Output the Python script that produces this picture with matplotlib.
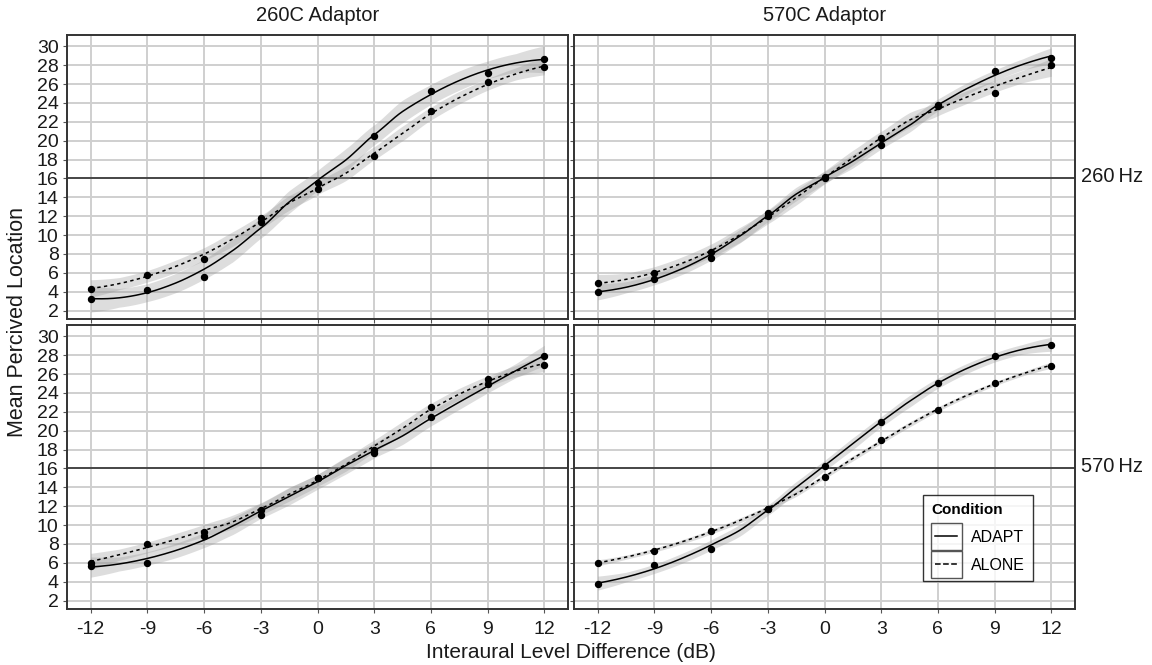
import numpy as np
import matplotlib
matplotlib.use("Agg")
import matplotlib.pyplot as plt
from matplotlib.lines import Line2D
from matplotlib.patches import Rectangle
from matplotlib.legend_handler import HandlerBase

plt.rcParams["font.family"] = ["Liberation Sans", "DejaVu Sans"]
plt.rcParams["axes.unicode_minus"] = False

ild = [-12, -9, -6, -3, 0, 3, 6, 9, 12]
y_ticks = list(range(2, 31, 2))
adaptors = ["260C Adaptor", "570C Adaptor"]
targets = ["260\u2009Hz", "570\u2009Hz"]

# mean perceived location, rows = target, columns = adaptor
adapt_260c_260 = [3.2, 4.2, 5.6, 11.4, 15.5, 20.5, 25.3, 27.2, 28.7]
alone_260c_260 = [4.3, 5.8, 7.5, 11.8, 14.9, 18.4, 23.1, 26.2, 27.8]
adapt_570c_260 = [4.0, 5.3, 7.6, 12.3, 16.2, 19.5, 23.8, 27.4, 28.8]
alone_570c_260 = [4.9, 6.0, 8.2, 12.0, 16.0, 20.3, 23.7, 25.1, 28.0]
adapt_260c_570 = [5.7, 6.0, 8.8, 11.1, 15.0, 17.6, 21.4, 24.9, 27.9]
alone_260c_570 = [6.0, 8.0, 9.3, 11.6, 15.0, 18.0, 22.5, 25.5, 27.0]
adapt_570c_570 = [3.7, 5.8, 7.5, 11.7, 16.3, 20.9, 25.1, 27.9, 29.1]
alone_570c_570 = [6.0, 7.3, 9.4, 11.7, 15.1, 19.0, 22.2, 25.1, 26.9]

panels = {
    (0, 0): (adapt_260c_260, alone_260c_260),
    (0, 1): (adapt_570c_260, alone_570c_260),
    (1, 0): (adapt_260c_570, alone_260c_570),
    (1, 1): (adapt_570c_570, alone_570c_570),
}


def local_rows(x, x0, q):
    # rows of the local quadratic smoother: value and slope at x0
    d = np.abs(x - x0)
    h = np.sort(d)[q - 1] * 1.0001
    w = np.clip(1 - (d / h) ** 3, 0, None) ** 3
    X = np.column_stack([np.ones_like(x), x - x0, (x - x0) ** 2])
    W = np.diag(w)
    A = np.linalg.pinv(X.T @ W @ X) @ X.T @ W
    return A[0], A[1]


def loess(x, y, grid, span=0.75):
    x = np.asarray(x, float)
    y = np.asarray(y, float)
    q = int(np.floor(len(x) * span))

    # residual scale from the hat matrix
    S = np.array([local_rows(x, v, q)[0] for v in x])
    R = np.eye(len(x)) - S
    sigma = np.sqrt(np.sum((R @ y) ** 2) / np.trace(R.T @ R))

    # exact fit at vertices, cubic Hermite in between
    verts = np.unique(np.concatenate([x, (x[:-1] + x[1:]) / 2]))
    vals, slopes, ses = [], [], []
    for v in verts:
        l0, l1 = local_rows(x, v, q)
        vals.append(l0 @ y)
        slopes.append(l1 @ y)
        ses.append(sigma * np.sqrt(np.sum(l0 ** 2)))
    vals, slopes, ses = map(np.array, (vals, slopes, ses))

    idx = np.clip(np.searchsorted(verts, grid) - 1, 0, len(verts) - 2)
    x0, x1 = verts[idx], verts[idx + 1]
    hh = x1 - x0
    t = (grid - x0) / hh
    h00 = 2 * t ** 3 - 3 * t ** 2 + 1
    h10 = t ** 3 - 2 * t ** 2 + t
    h01 = -2 * t ** 3 + 3 * t ** 2
    h11 = t ** 3 - t ** 2
    fit = (h00 * vals[idx] + h10 * hh * slopes[idx]
           + h01 * vals[idx + 1] + h11 * hh * slopes[idx + 1])
    se = np.interp(grid, verts, ses)
    return fit, se


class BoxedLine(HandlerBase):
    def create_artists(self, legend, orig_handle, xdescent, ydescent,
                       width, height, fontsize, trans):
        gap = legend.labelspacing * fontsize / 2
        box = Rectangle((-xdescent, -ydescent - gap), width, height + 2 * gap,
                        fill=False, edgecolor="#555555", linewidth=1.0,
                        transform=trans)
        yc = height / 2 - ydescent
        line = Line2D([-xdescent + 3, -xdescent + width - 3], [yc, yc],
                      color="black", linewidth=1.1,
                      linestyle=orig_handle.get_linestyle(), transform=trans)
        return [box, line]


fig = plt.figure(figsize=(11.52, 6.65), dpi=100)
lefts = [67 / 1152, 574 / 1152]
bottoms = [1 - 319 / 665, 1 - 609 / 665]
w = 501 / 1152
h = 284 / 665

grid_x = np.linspace(-12, 12, 241)
grey = "#cfcfcf"
dash = (0, (2.2, 2.2))

for (r, c), (adapt, alone) in panels.items():
    ax = fig.add_axes([lefts[c], bottoms[r], w, h])
    ax.set_xlim(-13.25, 13.25)
    ax.set_ylim(1.1, 31.2)
    ax.set_xticks(ild)
    ax.set_yticks(y_ticks)
    ax.grid(True, color=grey, linewidth=1.4)
    ax.set_axisbelow(True)
    for s in ax.spines.values():
        s.set_color("#333333")
        s.set_linewidth(1.4)
    ax.axhline(16, color="#222222", linewidth=1.1, zorder=2)

    for vals, ls in ((adapt, "-"), (alone, dash)):
        fit, se = loess(ild, vals, grid_x)
        ax.fill_between(grid_x, fit - 2.2 * se, fit + 2.2 * se,
                        color="#999999", alpha=0.33, linewidth=0, zorder=3)
        ax.plot(grid_x, fit, color="black", linestyle=ls, linewidth=1.1, zorder=4)
        ax.plot(ild, vals, "o", color="black", markersize=4.3, zorder=5)

    ax.tick_params(length=3, color="#555555", labelsize=14, labelcolor="#1a1a1a")
    ax.tick_params(axis="x", pad=6)
    ax.tick_params(axis="y", pad=3)
    if r == 0:
        ax.set_title(adaptors[c], fontsize=14.5, pad=10, color="#1a1a1a")
        ax.tick_params(labelbottom=False)
    if c == 1:
        ax.tick_params(labelleft=False)
        ax.text(1.012, 0.5, targets[r], transform=ax.transAxes, fontsize=14.5,
                va="center", ha="left", color="#1a1a1a")

    if (r, c) == (1, 1):
        handles = [Line2D([], [], linestyle="-"), Line2D([], [], linestyle=dash)]
        leg = ax.legend(handles, ["ADAPT", "ALONE"], title="Condition",
                        loc="lower left", bbox_to_anchor=(0.697, 0.099),
                        borderaxespad=0, handler_map={Line2D: BoxedLine()},
                        fontsize=11.5, title_fontproperties={"weight": "bold", "size": 11},
                        frameon=True, fancybox=False, edgecolor="black",
                        handlelength=1.9, handleheight=1.1, handletextpad=0.6,
                        borderpad=0.5, labelspacing=0.75)
        leg.get_frame().set_linewidth(1.0)
        leg._legend_box.align = "left"

fig.text(0.5 * (67 + 1075) / 1152, 1 - 652 / 665, "Interaural Level Difference (dB)",
         ha="center", va="center", fontsize=15, color="#1a1a1a")
fig.text(18 / 1152, 1 - 322 / 665, "Mean Percived Location", rotation=90,
         ha="center", va="center", fontsize=15.5, color="#1a1a1a")

fig.savefig("out.png", dpi=100)
